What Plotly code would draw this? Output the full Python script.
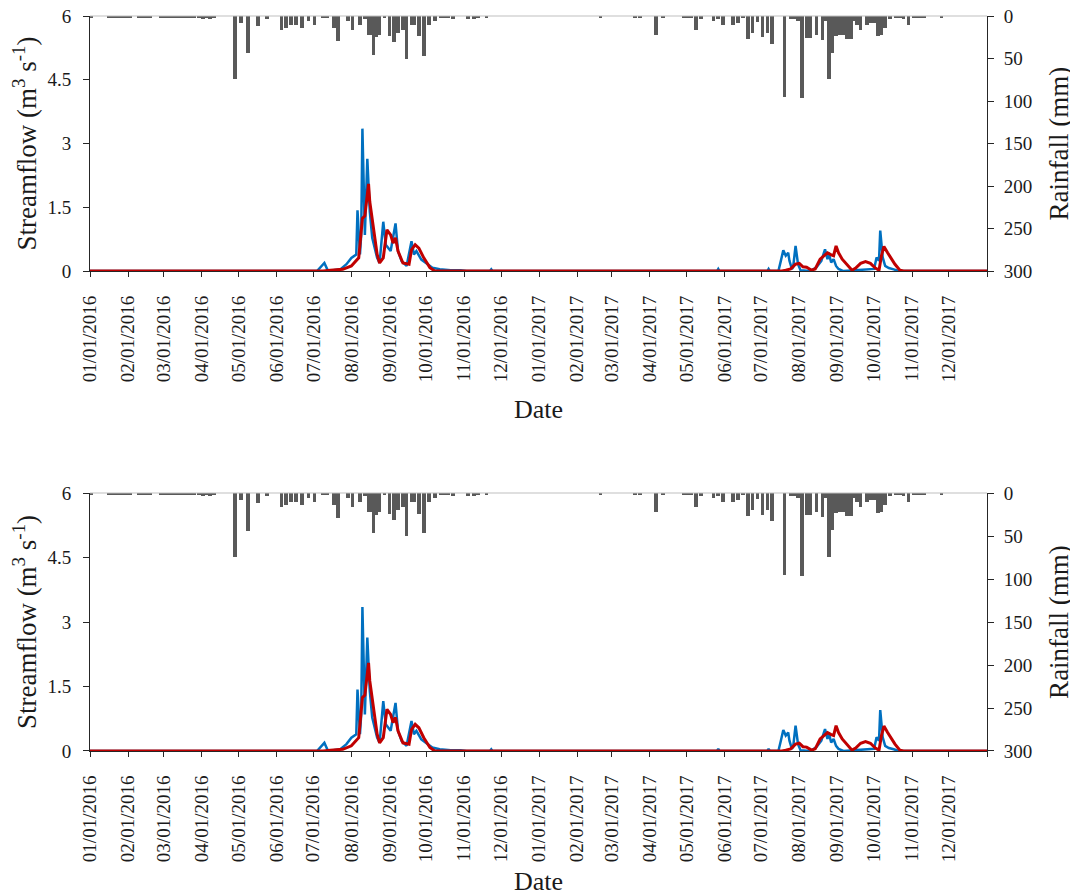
import pandas as pd
import plotly.graph_objects as go

# Days counted from 01/01/2016 (day 0); each panel shows the same record
START = pd.Timestamp("2016-01-01")

RAIN_DAY = [
    1, 15, 18, 21, 24, 27, 30, 33, 40, 43, 46, 49, 58, 61, 64, 67, 70, 73, 76, 79,
    82, 85, 89, 92, 95, 98, 101, 118, 123, 129, 137, 144, 156, 160, 164, 168, 173,
    178, 183, 190, 193, 199, 202, 210, 214, 220, 224, 227, 229, 231, 233, 236, 240,
    244, 248, 251, 255, 258, 262, 264, 268, 272, 276, 281, 286, 289, 292, 296, 308,
    313, 316, 323,
    416, 444, 448, 461, 467, 484, 487, 490, 494, 498, 508, 512, 516, 524, 528, 532,
    536, 540, 544, 548, 552, 556, 566, 571, 574, 577, 580, 584, 587, 592, 597, 600,
    602, 605, 608, 611, 614, 617, 620, 623, 625, 628, 633, 636, 639, 642, 645, 648,
    652, 657, 660, 663, 667, 671, 674, 677, 680, 694,
]
RAIN_MM = [
    2, 2, 2, 2, 2, 2, 2, 2, 2, 2, 2, 2, 2, 2, 2, 2, 2, 2, 2, 2,
    2, 2, 2, 3, 2, 3, 2, 74, 8, 44, 12, 3, 16, 14, 11, 10, 14,
    6, 10, 2, 2, 14, 29, 6, 16, 10, 3, 22, 22, 46, 25, 22, 2,
    24, 31, 20, 16, 50, 11, 11, 24, 47, 11, 6, 2, 2, 2, 3, 3,
    3, 2, 2,
    2, 2, 2, 22, 2, 2, 2, 2, 16, 3, 6, 3, 10, 11, 8, 2,
    27, 20, 7, 25, 20, 33, 95, 3, 3, 6, 96, 26, 26, 22, 28, 6,
    74, 43, 23, 22, 22, 27, 27, 6, 11, 16, 11, 8, 8, 23, 22, 14,
    3, 2, 2, 3, 11, 2, 2, 2, 2, 2,
]

OBS_DAY = [
    0, 185, 191, 194, 204, 209, 213, 217, 218, 220, 221, 222, 224, 226, 228, 230,
    234, 236, 239, 241, 245, 249, 251, 254, 258, 262, 264, 266, 270, 275, 279, 285,
    294, 302, 307, 326, 327, 328, 511, 512, 513, 552, 553, 554, 561, 563, 565, 567,
    569, 570, 572, 573, 575, 577, 579, 587, 592, 596, 599, 601, 602, 604, 606, 608,
    610, 614, 625, 632, 639, 641, 643, 644, 646, 648, 651, 655, 659, 731,
]
OBS_FLOW = [
    0, 0, 0.19, 0, 0.04, 0.16, 0.31, 0.39, 1.43, 0.39, 0.85, 3.35, 0.85, 2.64, 1.40, 0.78,
    0.31, 0.19, 1.16, 0.62, 0.47, 1.12, 0.47, 0.23, 0.12, 0.70, 0.39, 0.47, 0.27, 0.16, 0.08, 0.04,
    0.02, 0.02, 0, 0, 0.04, 0, 0, 0.05, 0, 0, 0.05, 0, 0, 0.24, 0.49, 0.36,
    0.43, 0.24, 0.05, 0.09, 0.59, 0.16, 0.02, 0, 0.09, 0.24, 0.51, 0.28, 0.43, 0.20, 0.28, 0.12,
    0.05, 0, 0.02, 0.02, 0.05, 0.32, 0.24, 0.95, 0.32, 0.12, 0.07, 0.04, 0, 0,
]

SIM_DAY = [
    0, 190, 196, 206, 213, 219, 220, 222, 224, 227, 228, 231, 234, 236, 239, 242,
    245, 247, 249, 251, 255, 260, 262, 265, 268, 272, 277, 281, 564, 567, 571, 575,
    578, 581, 584, 588, 591, 595, 598, 601, 604, 606, 608, 610, 613, 617, 621, 624,
    628, 632, 636, 640, 643, 645, 647, 650, 653, 656, 660, 663, 731,
]
SIM_FLOW = [
    0, 0, 0.02, 0.04, 0.12, 0.31, 0.62, 1.24, 1.30, 2.05, 1.63, 1.00, 0.39, 0.19, 0.31, 0.97,
    0.85, 0.66, 0.78, 0.47, 0.19, 0.16, 0.50, 0.62, 0.54, 0.31, 0.08, 0, 0, 0.02, 0.05, 0.16,
    0.18, 0.10, 0.09, 0.02, 0.05, 0.28, 0.36, 0.43, 0.38, 0.36, 0.59, 0.43, 0.28, 0.16, 0.02, 0.07,
    0.18, 0.22, 0.18, 0.07, 0.02, 0.36, 0.58, 0.43, 0.28, 0.16, 0.02, 0, 0,
]

FLOW_TICKS = [0, 1.5, 3, 4.5, 6]
FLOW_TICK_TEXT = ["0", "1.5", "3", "4.5", "6"]
RAIN_TICKS = [0, 50, 100, 150, 200, 250, 300]

month_ticks = pd.date_range("2016-01-01", "2018-01-01", freq="MS")
month_text = [d.strftime("%m/%d/%Y") for d in month_ticks[:-1]] + [""]


def to_dates(days):
    return START + pd.to_timedelta(days, unit="D")


FONT = dict(family="Liberation Serif, Times New Roman, serif", size=19, color="#1a1a1a")
AXIS_COLOR = "#262626"

fig = go.Figure()

panels = [
    dict(x="x", y="y", y_rain="y2", domain=[0.653, 1.0]),
    dict(x="x2", y="y3", y_rain="y4", domain=[0.0, 0.351]),
]

for p in panels:
    fig.add_trace(go.Bar(
        x=to_dates(RAIN_DAY), y=RAIN_MM,
        xaxis=p["x"], yaxis=p["y_rain"],
        width=3 * 86400000,
        marker=dict(color="#595959", line=dict(width=0)),
        showlegend=False,
    ))
    fig.add_trace(go.Scatter(
        x=to_dates(OBS_DAY), y=OBS_FLOW,
        xaxis=p["x"], yaxis=p["y"],
        mode="lines",
        line=dict(color="#0070C0", width=2.5),
        showlegend=False,
    ))
    fig.add_trace(go.Scatter(
        x=to_dates(SIM_DAY), y=SIM_FLOW,
        xaxis=p["x"], yaxis=p["y"],
        mode="lines",
        line=dict(color="#C00000", width=3),
        showlegend=False,
    ))

x_common = dict(
    type="date",
    range=["2016-01-01", "2018-01-01"],
    tickmode="array",
    tickvals=month_ticks,
    ticktext=month_text,
    tickangle=-90,
    ticks="outside",
    ticklen=5,
    tickcolor=AXIS_COLOR,
    ticklabelstandoff=11,
    ticklabeloverflow="allow",
    showline=True,
    linecolor=AXIS_COLOR,
    showgrid=False,
    zeroline=False,
    automargin=False,
    title=dict(text="Date", font=dict(size=26), standoff=18),
)
flow_common = dict(
    range=[0, 6],
    tickmode="array",
    tickvals=FLOW_TICKS,
    ticktext=FLOW_TICK_TEXT,
    ticks="outside",
    ticklen=6,
    tickcolor=AXIS_COLOR,
    ticklabelstandoff=8,
    ticklabeloverflow="allow",
    showline=True,
    linecolor=AXIS_COLOR,
    showgrid=False,
    zeroline=False,
    automargin=False,
    title=dict(text="Streamflow (m<sup>3</sup> s<sup>-1</sup>)", font=dict(size=27), standoff=4),
)
rain_common = dict(
    range=[300, 0],
    tickmode="array",
    tickvals=RAIN_TICKS,
    side="right",
    ticks="outside",
    ticklen=6,
    tickcolor=AXIS_COLOR,
    ticklabelstandoff=6,
    ticklabeloverflow="allow",
    showline=True,
    linecolor=AXIS_COLOR,
    showgrid=False,
    zeroline=False,
    automargin=False,
    title=dict(text="Rainfall (mm)", font=dict(size=27), standoff=17),
)

# page body adds an 8px offset, so the figure is sized to 1070x888
fig.update_layout(
    width=1070,
    height=888,
    font=FONT,
    paper_bgcolor="white",
    plot_bgcolor="white",
    margin=dict(l=82, r=91, t=8, b=145),
    barmode="overlay",
    bargap=0,
    xaxis=dict(**x_common, domain=[0, 1], anchor="y"),
    xaxis2=dict(**x_common, domain=[0, 1], anchor="y3"),
    yaxis=dict(**flow_common, domain=panels[0]["domain"], anchor="x"),
    yaxis2=dict(**rain_common, overlaying="y", anchor="x"),
    yaxis3=dict(**flow_common, domain=panels[1]["domain"], anchor="x2"),
    yaxis4=dict(**rain_common, overlaying="y3", anchor="x2"),
    shapes=[
        dict(type="line", xref="x domain", yref="y domain", x0=0, x1=1, y0=1, y1=1,
             line=dict(color="#BFBFBF", width=1)),
        dict(type="line", xref="x2 domain", yref="y3 domain", x0=0, x1=1, y0=1, y1=1,
             line=dict(color="#BFBFBF", width=1)),
    ],
)

fig.write_html("out.html")
